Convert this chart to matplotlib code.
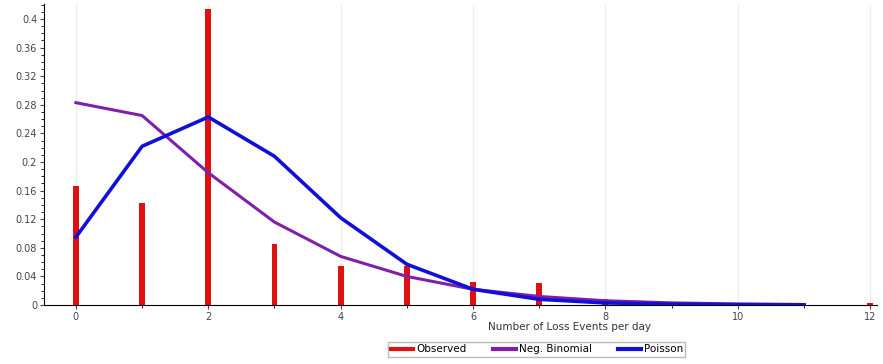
import matplotlib.pyplot as plt
import numpy as np
from matplotlib.ticker import MultipleLocator
from matplotlib.lines import Line2D

events = np.arange(0, 13)
observed = [0.166, 0.143, 0.414, 0.085, 0.055, 0.054, 0.032, 0.031, 0.008, 0.004, 0.0, 0.0, 0.003]
neg_binomial = [0.283, 0.265, 0.185, 0.116, 0.068, 0.040, 0.022, 0.012, 0.006, 0.003, 0.0015, 0.0008]
poisson = [0.095, 0.222, 0.263, 0.208, 0.122, 0.057, 0.022, 0.008, 0.003, 0.0012, 0.0005, 0.0002]

red = "#e01010"
purple = "#8020a8"
blue = "#1010d8"

fig = plt.figure(figsize=(8.83, 3.64), dpi=100)
ax = fig.add_axes([0.05, 0.162, 0.943, 0.827])

ax.bar(events, observed, width=0.09, color=red, zorder=2)
ax.plot(np.arange(len(neg_binomial)), neg_binomial, color=purple, lw=2.2, zorder=3)
ax.plot(np.arange(len(poisson)), poisson, color=blue, lw=2.6, zorder=4)

ax.set_xlim(-0.48, 12.1)
ax.set_ylim(0, 0.421)
ax.xaxis.set_major_locator(MultipleLocator(2))
ax.xaxis.set_minor_locator(MultipleLocator(1))
ax.yaxis.set_minor_locator(MultipleLocator(0.01))
ax.set_yticks(np.arange(0, 0.41, 0.04))
ax.set_yticklabels(["0", "0.04", "0.08", "0.12", "0.16", "0.2", "0.24", "0.28", "0.32", "0.36", "0.4"])
ax.grid(axis="x", which="major", color="#ececec", lw=0.8, zorder=0)
ax.tick_params(labelsize=7, colors="#444444", length=3, pad=2)
ax.tick_params(which="minor", length=2)
for s in ["top", "right"]:
    ax.spines[s].set_visible(False)

fig.text(0.645, 0.115, "Number of Loss Events per day", fontsize=7.5, color="#333333",
         ha="center", va="top")

handles = [Line2D([], [], color=red, lw=3),
           Line2D([], [], color=purple, lw=3),
           Line2D([], [], color=blue, lw=3)]
labels = ["Observed", "Neg. Binomial", "Poisson"]
fig.legend(handles, labels, loc="center", bbox_to_anchor=(0.608, 0.04), ncol=3, fontsize=7.5,
           frameon=True, fancybox=False, edgecolor="#aaaaaa", handlelength=2.2,
           handletextpad=0.3, columnspacing=2.5, borderpad=0.2, borderaxespad=0)

fig.savefig("out.png", dpi=100)
